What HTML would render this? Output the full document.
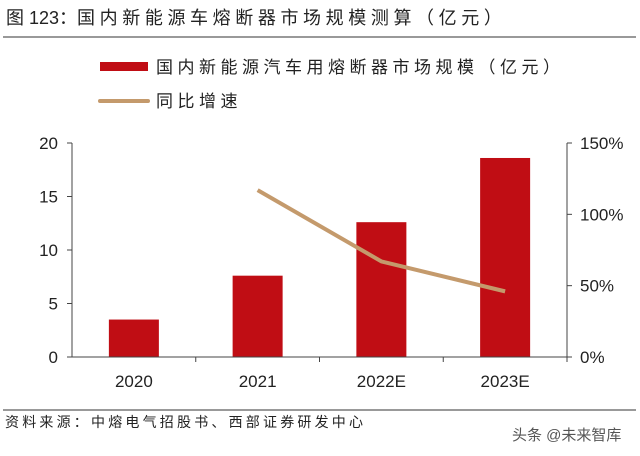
<!DOCTYPE html>
<html><head><meta charset="utf-8"><style>
body{margin:0;background:#fff;width:640px;height:451px;overflow:hidden}
svg text{font-family:"Liberation Sans","Noto Sans CJK SC",sans-serif}
</style></head><body>
<svg width="640" height="451">
<text x="6" y="24" font-size="18" fill="#222">图 123：<tspan letter-spacing="4.6">国内新能源车熔断器市场规模测算（亿元）</tspan></text>
<line x1="3" y1="37" x2="636" y2="37" stroke="#333" stroke-width="1"/>
<rect x="100" y="62" width="48" height="9" fill="#c00d14"/>
<text x="156" y="73" font-size="17" fill="#222" letter-spacing="4.5">国内新能源汽车用熔断器市场规模（亿元）</text>
<line x1="100" y1="101" x2="148" y2="101" stroke="#c49a6c" stroke-width="4" stroke-linecap="round"/>
<text x="156" y="107" font-size="17" fill="#222" letter-spacing="4.5">同比增速</text>
<g id="plot"></g>
<line x1="3" y1="410" x2="636" y2="410" stroke="#333" stroke-width="1"/>
<text x="5" y="427" font-size="14" fill="#222" letter-spacing="3.2">资料来源：中熔电气招股书、西部证券研发中心</text>
<text x="512" y="440" font-size="15" fill="#555">头条 @未来智库</text>
</svg>
<script>
const categories=["2020","2021","2022E","2023E"];
const marketSize=[3.5,7.6,12.6,18.6];
const growthPct=[null,117,67,46];
const leftTicks=[0,5,10,15,20];
const rightTicks=[0,50,100,150];
const NS="http://www.w3.org/2000/svg";
const g=document.getElementById("plot");
const X0=72,X1=567,Y0=357,YT=143;
const step=(X1-X0)/categories.length;
const xc=i=>X0+step*(i+0.5);
const yL=v=>Y0-(v/20)*(Y0-YT);
const yR=v=>Y0-(v/150)*(Y0-YT);
function mk(t,a){const e=document.createElementNS(NS,t);for(const k in a)e.setAttribute(k,a[k]);g.appendChild(e);return e;}
marketSize.forEach((v,i)=>{
const r=mk("rect",{x:xc(i)-25,y:yL(v),width:50,height:Y0-yL(v),fill:"#c00d14"});


});
let ax=mk("line",{x1:X0,y1:YT,x2:X0,y2:Y0,stroke:"#444"});


ax=mk("line",{x1:X1,y1:YT,x2:X1,y2:Y0,stroke:"#444"});


ax=mk("line",{x1:X0,y1:Y0,x2:X1,y2:Y0,stroke:"#444"});


leftTicks.forEach(v=>{
mk("line",{x1:X0-5,y1:yL(v),x2:X0,y2:yL(v),stroke:"#444"});
const t=mk("text",{x:X0-14,y:yL(v)+6,"font-size":17,"text-anchor":"end",fill:"#222"});t.textContent=v;


});
rightTicks.forEach(v=>{
mk("line",{x1:X1,y1:yR(v),x2:X1+5,y2:yR(v),stroke:"#444"});
const t=mk("text",{x:X1+13,y:yR(v)+6,"font-size":17,fill:"#222"});t.textContent=v+"%";


});
categories.forEach((c,i)=>{
mk("line",{x1:X0+step*(i+1),y1:Y0,x2:X0+step*(i+1),y2:Y0+5,stroke:"#444"});
const t=mk("text",{x:xc(i),y:Y0+30,"font-size":17,"text-anchor":"middle",fill:"#222"});t.textContent=c;


});
const pts=growthPct.map((v,i)=>v==null?null:xc(i)+","+yR(v)).filter(p=>p);
const pl=mk("polyline",{points:pts.join(" "),fill:"none",stroke:"#c49a6c","stroke-width":4,"stroke-linejoin":"round"});


</script>
</body></html>
